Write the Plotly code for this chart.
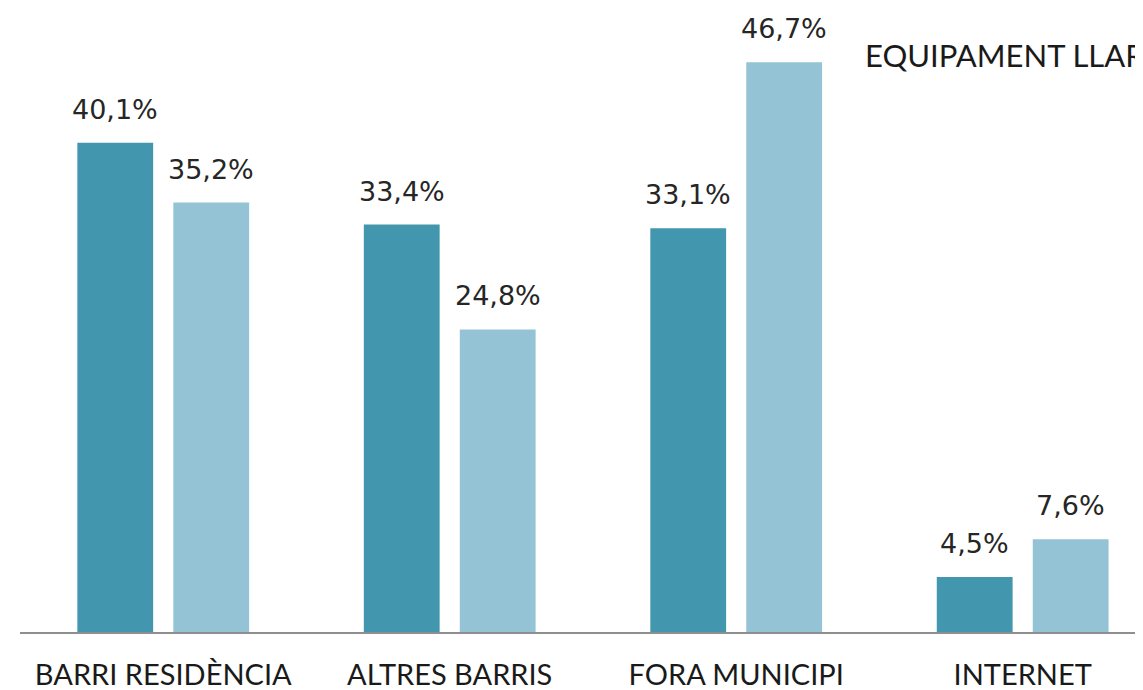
import plotly.graph_objects as go

categories = ["BARRI RESIDÈNCIA", "ALTRES BARRIS", "FORA MUNICIPI", "INTERNET"]
serie_a = [40.1, 33.4, 33.1, 4.5]
serie_b = [35.2, 24.8, 46.7, 7.6]
title_text = "EQUIPAMENT LLAR"

dark = "#4296AE"
light = "#94C3D5"

def fmt(v):
    return f"{v:.1f}".replace(".", ",") + "%"

fig = go.Figure()
fig.add_trace(go.Bar(x=categories, y=serie_a, marker=dict(color=dark, line=dict(width=0)),
                     hoverinfo="skip", name="A"))
fig.add_trace(go.Bar(x=categories, y=serie_b, marker=dict(color=light, line=dict(width=0)),
                     hoverinfo="skip", name="B"))

annotations = []
for i, c in enumerate(categories):
    for vals, dx in ((serie_a, -48), (serie_b, 48)):
        annotations.append(dict(x=c, y=vals[i], xref="x", yref="y", text=fmt(vals[i]),
                                showarrow=False, xshift=dx, yshift=16, yanchor="bottom",
                                font=dict(family="DejaVu Sans", size=27, color="#262626")))
annotations.append(dict(x=(855 - 12) / 1123, y=(624 - 47) / 624, xref="paper", yref="paper",
                        text=title_text, showarrow=False, xanchor="left", yanchor="middle",
                        font=dict(family="Lato", size=31, color="#1a1a1a")))

fig.update_layout(
    width=1135, height=682,
    margin=dict(l=12, r=0, t=0, b=58, autoexpand=False),
    paper_bgcolor="white", plot_bgcolor="white",
    barmode="group", bargap=0.33, bargroupgap=0.21,
    showlegend=False,
    annotations=annotations,
    xaxis=dict(range=[-0.5, 3.42], showline=True, linecolor="#8f8f8f", linewidth=2,
               showgrid=False, zeroline=False, ticks="", ticklabelstandoff=16,
               automargin=False,
               tickfont=dict(family="Lato", size=29, color="#1a1a1a")),
    yaxis=dict(range=[0, 51.15], visible=False, showgrid=False, zeroline=False,
               automargin=False),
)

fig.write_html("out.html")
